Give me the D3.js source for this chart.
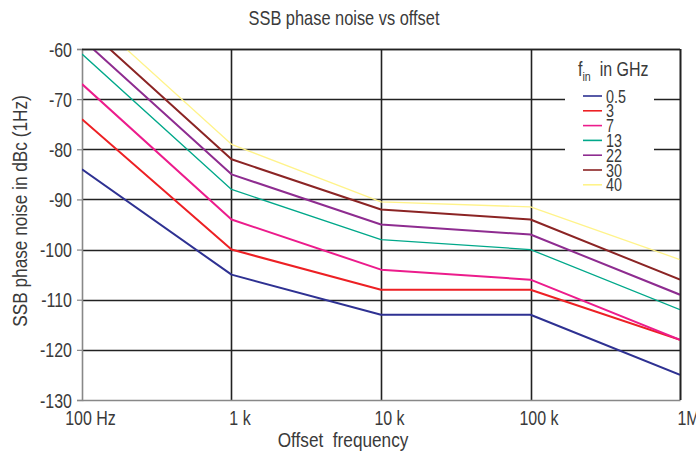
<!DOCTYPE html>
<html>
<head>
<meta charset="utf-8">
<script src="https://cdn.jsdelivr.net/npm/d3@7"></script>
<style>
  html, body { margin: 0; padding: 0; background: #fff; }
  svg text { font-family: "Liberation Sans", Arial, sans-serif; fill: #3a3a3a; }
</style>
</head>
<body>
<svg id="chart" width="696" height="452"></svg>
<script>
// ---- data ----
const offsets = [100, 1e3, 1e4, 1e5, 1e6];
const xTickLabels = ["100 Hz", "1 k", "10 k", "100 k", "1M"];
const yTicks = [-60, -70, -80, -90, -100, -110, -120, -130];
const seriesNames = ["0.5", "3", "7", "13", "22", "30", "40"];
const s05 = [-84, -105, -113, -113, -125];
const s3  = [-74, -100, -108, -108, -118];
const s7  = [-67, -94, -104, -106, -118];
const s13 = [-61, -88, -98, -100, -112];
const s22 = [-58, -85, -95, -97, -109];
const s30 = [-55, -82, -92, -94, -106];
const s40 = [-52, -79, -90.5, -91.5, -102];
const seriesColors = ["#2e3192", "#ed2024", "#ec1c8c", "#00a88a", "#8e2c90", "#8b2424", "#fff38a"];
const seriesWidths = [2, 2, 2, 1.3, 2, 2, 1.3];

const allSeries = [s05, s3, s7, s13, s22, s30, s40];

const K = 0.82; // horizontal condensation of text
function condense(sel, extra) {
  sel.each(function () {
    const t = d3.select(this);
    const tx = +t.attr("x") || 0, ty = +t.attr("y") || 0;
    t.attr("x", 0).attr("y", 0)
     .attr("transform", `translate(${tx},${ty}) ${extra || ""} scale(${K},1)`);
  });
}

const svg = d3.select("#chart");
const L = 82, R = 680, T = 49, B = 400;
const x = d3.scaleLog().domain([100, 1e6]).range([L, R]);
const y = d3.scaleLinear().domain([-130, -60]).range([B, T]);

// title
svg.append("text").attr("x", 344).attr("y", 25).attr("text-anchor", "middle")
  .style("font-size", "20px").text("SSB phase noise vs offset").call(condense);

// clip
svg.append("defs").append("clipPath").attr("id", "clip")
  .append("rect").attr("x", L).attr("y", T).attr("width", R - L).attr("height", B - T);

// horizontal gridlines (dark)
svg.append("g").selectAll("line").data(yTicks.filter(v => v > -130))
  .join("line")
  .attr("x1", L).attr("x2", R)
  .attr("y1", d => Math.round(y(d)) + 0.5).attr("y2", d => Math.round(y(d)) + 0.5)
  .attr("stroke", "#222").attr("stroke-width", 1.6);

// vertical gridlines
svg.append("g").selectAll("line").data(offsets.slice(1))
  .join("line")
  .attr("x1", d => Math.round(x(d)) + 0.5).attr("x2", d => Math.round(x(d)) + 0.5)
  .attr("y1", T).attr("y2", B)
  .attr("stroke", "#222").attr("stroke-width", 1.6);

// left / bottom axes (gray) via d3 axes
const yAxis = d3.axisLeft(y).tickValues(yTicks).tickSize(5).tickFormat(d => String(d));
const gy = svg.append("g").attr("transform", `translate(${L},0)`).call(yAxis);
gy.select(".domain").attr("stroke", "#888").attr("stroke-width", 1.6);
gy.selectAll(".tick line").attr("stroke", "#888").attr("stroke-width", 1.2);
gy.selectAll(".tick text").attr("x", -10).attr("y", 7).attr("dy", 0)
  .style("font-size", "19.5px").style("fill", "#3a3a3a").call(condense);

const xAxis = d3.axisBottom(x).tickValues(offsets).tickSize(0)
  .tickFormat((d, i) => xTickLabels[i]);
const gx = svg.append("g").attr("transform", `translate(0,${B})`).call(xAxis);
gx.select(".domain").attr("stroke", "#888").attr("stroke-width", 1.6);
gx.selectAll(".tick text").attr("y", 25).attr("x", 8).attr("dy", 0)
  .style("font-size", "19.5px").style("fill", "#3a3a3a").call(condense);

// axis titles
svg.append("text").attr("x", 343).attr("y", 447).attr("text-anchor", "middle")
  .style("font-size", "21px").attr("xml:space", "preserve").text("Offset  frequency")
  .call(condense);
svg.append("text").attr("x", 27).attr("y", 211)
  .attr("text-anchor", "middle").style("font-size", "21px")
  .text("SSB phase noise in dBc (1Hz)")
  .call(condense, "rotate(-90)");

// legend background
svg.append("rect").attr("x", 565).attr("y", 56).attr("width", 89).attr("height", 138)
  .attr("fill", "#fff");

// series lines
const line = d3.line().x((d, i) => x(offsets[i])).y(d => y(d));
svg.append("g").attr("clip-path", "url(#clip)")
  .selectAll("path").data(allSeries).join("path")
  .attr("d", d => line(d))
  .attr("fill", "none")
  .attr("stroke", (d, i) => seriesColors[i])
  .attr("stroke-width", (d, i) => seriesWidths[i])
  .attr("stroke-linejoin", "round");

// right & top border (dark)
svg.append("line").attr("x1", R + 0.5).attr("x2", R + 0.5).attr("y1", T).attr("y2", B)
  .attr("stroke", "#222").attr("stroke-width", 1.6);
svg.append("line").attr("x1", L).attr("x2", R).attr("y1", T + 0.5).attr("y2", T + 0.5)
  .attr("stroke", "#222").attr("stroke-width", 1.6);

// legend
const lt = svg.append("text").attr("x", 578).attr("y", 76).style("font-size", "19.5px");
lt.append("tspan").text("f");
lt.append("tspan").attr("dy", 5).style("font-size", "13px").text("in");
lt.append("tspan").attr("dy", -5).attr("xml:space", "preserve").text("  in GHz");
lt.call(condense);

const lg = svg.append("g").selectAll("g").data(seriesNames).join("g")
  .attr("transform", (d, i) => `translate(0,${96 + i * 14.8})`);
lg.append("line").attr("x1", 583).attr("x2", 602).attr("y1", 0).attr("y2", 0)
  .attr("stroke", (d, i) => seriesColors[i]).attr("stroke-width", 1.6);
lg.append("text").attr("x", 606).attr("y", 6.5).style("font-size", "17.5px").text(d => d)
  .call(condense);
</script>
</body>
</html>
